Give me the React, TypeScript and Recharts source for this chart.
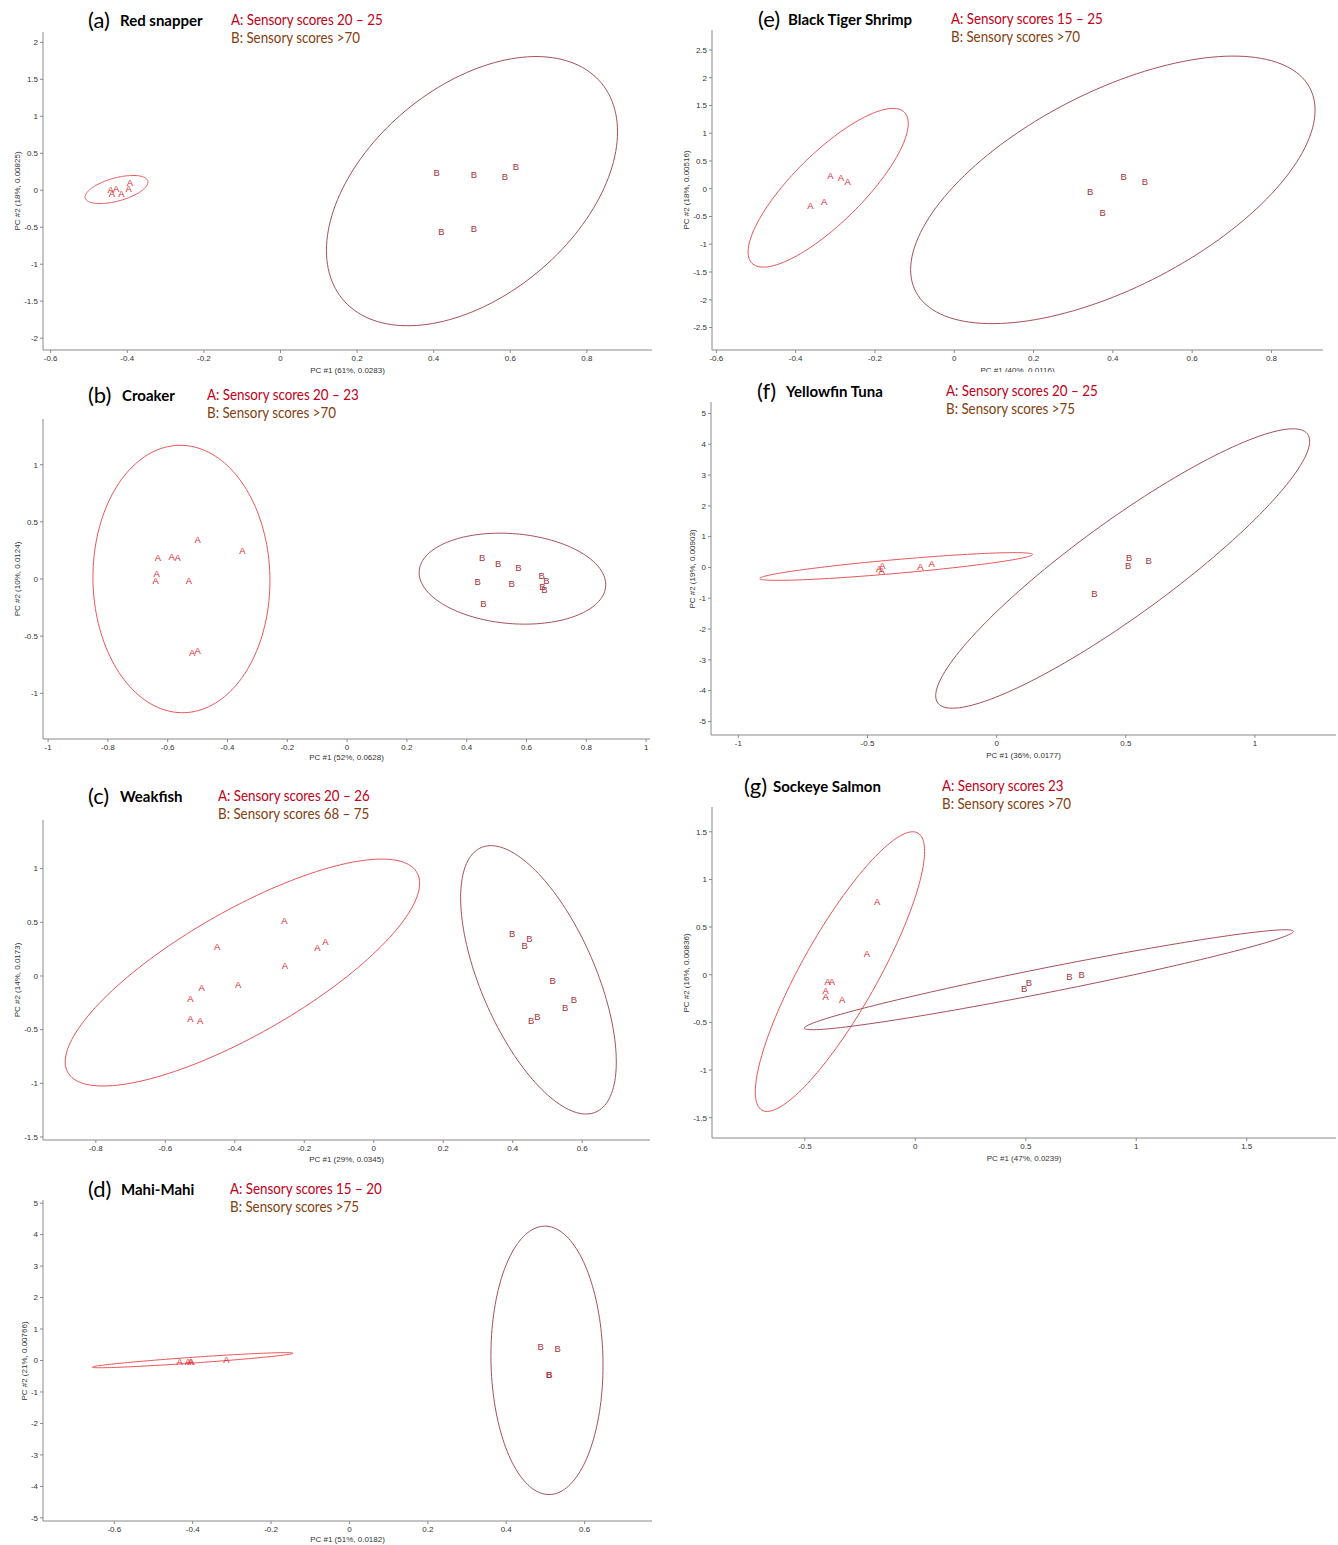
import React from 'react'
import { ScatterChart, Scatter, XAxis, YAxis } from 'recharts'

type Pt = { x: number; y: number }
// confidence ellipse: centre, half width, half height, y value at its rightmost point
type Ell = { cx: number; cy: number; rx: number; ry: number; yRight: number }

// (a) Red snapper
const snapperA: Pt[] = [
  { x: -0.443, y: 0.014 }, { x: -0.429, y: 0.023 }, { x: -0.44, y: -0.045 },
  { x: -0.415, y: -0.045 }, { x: -0.393, y: 0.1 }, { x: -0.396, y: 0.023 },
]
const snapperB: Pt[] = [
  { x: 0.408, y: 0.24 }, { x: 0.505, y: 0.21 }, { x: 0.586, y: 0.185 },
  { x: 0.615, y: 0.32 }, { x: 0.42, y: -0.56 }, { x: 0.505, y: -0.515 },
]
const snapperEllA: Ell = { cx: -0.428, cy: 0.01, rx: 0.082, ry: 0.19, yRight: 0.11 }
const snapperEllB: Ell = { cx: 0.5, cy: -0.012, rx: 0.38, ry: 1.82, yRight: 0.79 }

// (b) Croaker
const croakerA: Pt[] = [
  { x: -0.5, y: 0.35 }, { x: -0.35, y: 0.25 }, { x: -0.633, y: 0.19 }, { x: -0.587, y: 0.2 },
  { x: -0.567, y: 0.19 }, { x: -0.637, y: 0.05 }, { x: -0.64, y: -0.015 }, { x: -0.529, y: -0.01 },
  { x: -0.518, y: -0.645 }, { x: -0.5, y: -0.625 },
]
const croakerB: Pt[] = [
  { x: 0.452, y: 0.19 }, { x: 0.505, y: 0.134 }, { x: 0.573, y: 0.1 }, { x: 0.437, y: -0.02 },
  { x: 0.55, y: -0.04 }, { x: 0.456, y: -0.218 }, { x: 0.651, y: 0.03 }, { x: 0.667, y: -0.015 },
  { x: 0.653, y: -0.067 }, { x: 0.66, y: -0.093 },
]
const croakerEllA: Ell = { cx: -0.554, cy: 0, rx: 0.296, ry: 1.17, yRight: -0.015 }
const croakerEllB: Ell = { cx: 0.553, cy: 0.003, rx: 0.312, ry: 0.398, yRight: -0.05 }

// (c) Weakfish
const weakfishA: Pt[] = [
  { x: -0.257, y: 0.515 }, { x: -0.451, y: 0.276 }, { x: -0.162, y: 0.264 }, { x: -0.139, y: 0.323 },
  { x: -0.256, y: 0.102 }, { x: -0.495, y: -0.112 }, { x: -0.39, y: -0.084 }, { x: -0.528, y: -0.208 },
  { x: -0.528, y: -0.394 }, { x: -0.5, y: -0.413 },
]
const weakfishB: Pt[] = [
  { x: 0.398, y: 0.398 }, { x: 0.448, y: 0.351 }, { x: 0.434, y: 0.283 }, { x: 0.515, y: -0.043 },
  { x: 0.576, y: -0.217 }, { x: 0.551, y: -0.298 }, { x: 0.453, y: -0.419 }, { x: 0.471, y: -0.382 },
]
const weakfishEllA: Ell = { cx: -0.378, cy: 0.032, rx: 0.51, ry: 1.057, yRight: 0.863 }
const weakfishEllB: Ell = { cx: 0.474, cy: -0.036, rx: 0.224, ry: 1.25, yRight: -0.8 }

// (d) Mahi-Mahi
const mahiA: Pt[] = [
  { x: -0.433, y: -0.02 }, { x: -0.412, y: -0.02 }, { x: -0.406, y: -0.02 },
  { x: -0.403, y: -0.04 }, { x: -0.314, y: 0.04 },
]
const mahiB: Pt[] = [
  { x: 0.488, y: 0.455 }, { x: 0.531, y: 0.38 }, { x: 0.509, y: -0.445 }, { x: 0.51, y: -0.43 },
]
const mahiEllA: Ell = { cx: -0.4, cy: 0.01, rx: 0.256, ry: 0.24, yRight: 0.232 }
const mahiEllB: Ell = { cx: 0.504, cy: 0.005, rx: 0.143, ry: 4.265, yRight: -0.15 }

// (e) Black Tiger Shrimp
const shrimpA: Pt[] = [
  { x: -0.3125, y: 0.234 }, { x: -0.286, y: 0.198 }, { x: -0.269, y: 0.132 },
  { x: -0.363, y: -0.306 }, { x: -0.328, y: -0.234 },
]
const shrimpB: Pt[] = [
  { x: 0.427, y: 0.216 }, { x: 0.481, y: 0.126 }, { x: 0.343, y: -0.042 }, { x: 0.374, y: -0.42 },
]
const shrimpEllA: Ell = { cx: -0.318, cy: 0.018, rx: 0.202, ry: 1.43, yRight: 1.176 }
const shrimpEllB: Ell = { cx: 0.4, cy: -0.02, rx: 0.51, ry: 2.41, yRight: 1.417 }

// (f) Yellowfin Tuna
const tunaA: Pt[] = [
  { x: -0.455, y: -0.04 }, { x: -0.442, y: 0.054 }, { x: -0.445, y: -0.11 },
  { x: -0.295, y: 0.03 }, { x: -0.252, y: 0.14 },
]
const tunaB: Pt[] = [
  { x: 0.513, y: 0.325 }, { x: 0.509, y: 0.076 }, { x: 0.589, y: 0.217 }, { x: 0.379, y: -0.856 },
]
const tunaEllA: Ell = { cx: -0.389, cy: 0.03, rx: 0.528, ry: 0.45, yRight: 0.42 }
const tunaEllB: Ell = { cx: 0.488, cy: -0.035, rx: 0.724, ry: 4.535, yRight: 4.095 }

// (g) Sockeye Salmon
const salmonA: Pt[] = [
  { x: -0.173, y: 0.773 }, { x: -0.219, y: 0.227 }, { x: -0.397, y: -0.073 }, { x: -0.377, y: -0.073 },
  { x: -0.406, y: -0.168 }, { x: -0.406, y: -0.227 }, { x: -0.331, y: -0.262 },
]
const salmonB: Pt[] = [
  { x: 0.514, y: -0.077 }, { x: 0.493, y: -0.14 }, { x: 0.697, y: -0.014 }, { x: 0.753, y: 0.003 },
]
const salmonEllA: Ell = { cx: -0.341, cy: 0.033, rx: 0.383, ry: 1.467, yRight: 1.295 }
const salmonEllB: Ell = { cx: 0.6045, cy: -0.0525, rx: 1.1065, ry: 0.5245, yRight: 0.455 }

// tick labels
const ticksA_x = [-0.6, -0.4, -0.2, 0, 0.2, 0.4, 0.6, 0.8]
const ticksA_y = [-2, -1.5, -1, -0.5, 0, 0.5, 1, 1.5, 2]
const ticksB_x = [-1, -0.8, -0.6, -0.4, -0.2, 0, 0.2, 0.4, 0.6, 0.8, 1]
const ticksB_y = [-1, -0.5, 0, 0.5, 1]
const ticksC_x = [-0.8, -0.6, -0.4, -0.2, 0, 0.2, 0.4, 0.6]
const ticksC_y = [-1.5, -1, -0.5, 0, 0.5, 1]
const ticksD_x = [-0.6, -0.4, -0.2, 0, 0.2, 0.4, 0.6]
const ticksD_y = [-5, -4, -3, -2, -1, 0, 1, 2, 3, 4, 5]
const ticksE_x = [-0.6, -0.4, -0.2, 0, 0.2, 0.4, 0.6, 0.8]
const ticksE_y = [-2.5, -2, -1.5, -1, -0.5, 0, 0.5, 1, 1.5, 2, 2.5]
const ticksF_x = [-1, -0.5, 0, 0.5, 1]
const ticksF_y = [-5, -4, -3, -2, -1, 0, 1, 2, 3, 4, 5]
const ticksG_x = [-0.5, 0, 0.5, 1, 1.5]
const ticksG_y = [-1.5, -1, -0.5, 0, 0.5, 1, 1.5]

const A_COLOR = '#e3262d'
const B_COLOR = '#a8323c'
const ELL_A = '#e8555a'
const ELL_B = '#a5505c'
const LEG_A = '#c00018'
const LEG_B = '#83400f'
const TITLE_FONT = "Lato, 'Open Sans', sans-serif"
const SMALL_FONT = "'Liberation Sans', Arial, sans-serif"

const ellipsePoints = (e: Ell): Pt[] => {
  const s = Math.max(-1, Math.min(1, (e.yRight - e.cy) / e.ry))
  const phi = Math.asin(s)
  const pts: Pt[] = []
  for (let i = 0; i <= 160; i++) {
    const t = (i / 160) * Math.PI * 2
    pts.push({ x: e.cx + e.rx * Math.cos(t), y: e.cy + e.ry * Math.sin(t + phi) })
  }
  return pts
}

const letter = (ch: string, color: string) => (props: any) => (
  <text x={props.cx} y={props.cy} textAnchor="middle" dominantBaseline="central"
    fontSize={9.5} fill={color} fontFamily={SMALL_FONT}>{ch}</text>
)

interface PanelDef {
  tag: string; name: string; legA: string; legB: string
  xLabel: string; yLabel: string
  a: Pt[]; b: Pt[]; ellA: Ell; ellB: Ell
  xTicks: number[]; yTicks: number[]
  xDomain: [number, number]; yDomain: [number, number]
  // plot rectangle on the page
  x0: number; x1: number; y0: number; y1: number
  titleX: number; titleY: number; nameX: number; legX: number
  xLabelY: number; yLabelX: number; clipXLabel?: boolean
}

const panels: PanelDef[] = [
  {
    tag: '(a)', name: 'Red snapper', legA: 'A: Sensory scores 20 – 25', legB: 'B: Sensory scores >70',
    xLabel: 'PC #1 (61%, 0.0283)', yLabel: 'PC #2 (18%, 0.00825)',
    a: snapperA, b: snapperB, ellA: snapperEllA, ellB: snapperEllB,
    xTicks: ticksA_x, yTicks: ticksA_y, xDomain: [-0.62, 0.97], yDomain: [-2.16, 2.14],
    x0: 43, x1: 652, y0: 32, y1: 350, titleX: 88, titleY: 20, nameX: 120, legX: 231, xLabelY: 371, yLabelX: 18,
  },
  {
    tag: '(b)', name: 'Croaker', legA: 'A: Sensory scores 20 – 23', legB: 'B: Sensory scores >70',
    xLabel: 'PC #1 (52%, 0.0628)', yLabel: 'PC #2 (10%, 0.0124)',
    a: croakerA, b: croakerB, ellA: croakerEllA, ellB: croakerEllB,
    xTicks: ticksB_x, yTicks: ticksB_y, xDomain: [-1.017, 1.013], yDomain: [-1.4, 1.4],
    x0: 43, x1: 650, y0: 419, y1: 739, titleX: 88, titleY: 395, nameX: 122, legX: 207, xLabelY: 758, yLabelX: 18,
  },
  {
    tag: '(c)', name: 'Weakfish', legA: 'A: Sensory scores 20 – 26', legB: 'B: Sensory scores 68 – 75',
    xLabel: 'PC #1 (29%, 0.0345)', yLabel: 'PC #2 (14%, 0.0173)',
    a: weakfishA, b: weakfishB, ellA: weakfishEllA, ellB: weakfishEllB,
    xTicks: ticksC_x, yTicks: ticksC_y, xDomain: [-0.952, 0.795], yDomain: [-1.528, 1.453],
    x0: 43, x1: 650, y0: 820, y1: 1140, titleX: 88, titleY: 796, nameX: 120, legX: 218, xLabelY: 1160, yLabelX: 18,
  },
  {
    tag: '(d)', name: 'Mahi-Mahi', legA: 'A: Sensory scores 15 – 20', legB: 'B: Sensory scores >75',
    xLabel: 'PC #1 (51%, 0.0182)', yLabel: 'PC #2 (21%, 0.00766)',
    a: mahiA, b: mahiB, ellA: mahiEllA, ellB: mahiEllB,
    xTicks: ticksD_x, yTicks: ticksD_y, xDomain: [-0.782, 0.772], yDomain: [-5.1, 5.1],
    x0: 43, x1: 652, y0: 1200, y1: 1521, titleX: 88, titleY: 1189, nameX: 121, legX: 230, xLabelY: 1540, yLabelX: 25,
  },
  {
    tag: '(e)', name: 'Black Tiger Shrimp', legA: 'A: Sensory scores 15 – 25', legB: 'B: Sensory scores >70',
    xLabel: 'PC #1 (40%, 0.0116)', yLabel: 'PC #2 (18%, 0.00516)',
    a: shrimpA, b: shrimpB, ellA: shrimpEllA, ellB: shrimpEllB,
    xTicks: ticksE_x, yTicks: ticksE_y, xDomain: [-0.611, 0.93], yDomain: [-2.905, 2.86],
    x0: 712, x1: 1323, y0: 30, y1: 350, titleX: 758, titleY: 19, nameX: 788, legX: 951, xLabelY: 371, yLabelX: 687,
    clipXLabel: true,
  },
  {
    tag: '(f)', name: 'Yellowfin Tuna', legA: 'A: Sensory scores 20 – 25', legB: 'B: Sensory scores >75',
    xLabel: 'PC #1 (36%, 0.0177)', yLabel: 'PC #2 (19%, 0.00903)',
    a: tunaA, b: tunaB, ellA: tunaEllA, ellB: tunaEllB,
    xTicks: ticksF_x, yTicks: ticksF_y, xDomain: [-1.106, 1.314], yDomain: [-5.44, 5.37],
    x0: 711, x1: 1336, y0: 402, y1: 735, titleX: 757, titleY: 391, nameX: 786, legX: 946, xLabelY: 756, yLabelX: 693,
  },
  {
    tag: '(g)', name: 'Sockeye Salmon', legA: 'A: Sensory scores 23', legB: 'B: Sensory scores >70',
    xLabel: 'PC #1 (47%, 0.0239)', yLabel: 'PC #2 (16%, 0.00836)',
    a: salmonA, b: salmonB, ellA: salmonEllA, ellB: salmonEllB,
    xTicks: ticksG_x, yTicks: ticksG_y, xDomain: [-0.92, 1.904], yDomain: [-1.713, 1.76],
    x0: 712, x1: 1336, y0: 807, y1: 1138, titleX: 744, titleY: 786, nameX: 773, legX: 942, xLabelY: 1159, yLabelX: 687,
  },
]

const Y_AXIS_W = 40
const M_TOP = 10
const M_RIGHT = 2
const X_AXIS_H = 22

const tickStyle = { fontSize: 8, fill: '#333', fontFamily: SMALL_FONT }

const Panel = ({ p }: { p: PanelDef }) => {
  const w = p.x1 - p.x0 + Y_AXIS_W + M_RIGHT
  const h = p.y1 - p.y0 + M_TOP + X_AXIS_H
  const xMid = (p.x0 + p.x1) / 2
  const yMid = (p.y0 + p.y1) / 2
  return (
    <>
      <div style={{ position: 'absolute', left: p.x0 - Y_AXIS_W, top: p.y0 - M_TOP }}>
        <ScatterChart width={w} height={h} margin={{ top: M_TOP, right: M_RIGHT, bottom: 0, left: 0 }}>
          <XAxis type="number" dataKey="x" domain={p.xDomain} ticks={p.xTicks} allowDataOverflow interval={0}
            height={X_AXIS_H} tickSize={3} tick={tickStyle}
            axisLine={{ stroke: '#8a8a8a' }} tickLine={{ stroke: '#8a8a8a' }} />
          <YAxis type="number" dataKey="y" domain={p.yDomain} ticks={p.yTicks} allowDataOverflow interval={0}
            width={Y_AXIS_W} tickSize={3} tick={tickStyle}
            axisLine={{ stroke: '#8a8a8a' }} tickLine={{ stroke: '#8a8a8a' }} />
          <Scatter data={ellipsePoints(p.ellA)} line={{ stroke: ELL_A, strokeWidth: 1 }} shape={() => <g />}
            isAnimationActive={false} />
          <Scatter data={ellipsePoints(p.ellB)} line={{ stroke: ELL_B, strokeWidth: 1 }} shape={() => <g />}
            isAnimationActive={false} />
          <Scatter data={p.a} shape={letter('A', A_COLOR)} isAnimationActive={false} />
          <Scatter data={p.b} shape={letter('B', B_COLOR)} isAnimationActive={false} />
        </ScatterChart>
      </div>
      <div style={{ position: 'absolute', left: p.titleX, top: p.titleY - 13, height: 26, lineHeight: '26px',
        fontFamily: TITLE_FONT, whiteSpace: 'nowrap', color: '#000' }}>
        <span style={{ fontSize: 22 }}>{p.tag}</span>
      </div>
      <div style={{ position: 'absolute', left: p.nameX, top: p.titleY - 10, height: 20, lineHeight: '20px',
        fontFamily: TITLE_FONT, fontWeight: 'bold', fontSize: 15, whiteSpace: 'nowrap', color: '#000' }}>
        {p.name}
      </div>
      <div style={{ position: 'absolute', left: p.legX, top: p.titleY - 10, lineHeight: '18px',
        fontFamily: TITLE_FONT, fontSize: 15, whiteSpace: 'nowrap', transform: 'scaleX(0.89)',
        transformOrigin: 'left top' }}>
        <div style={{ color: LEG_A }}>{p.legA}</div>
        <div style={{ color: LEG_B }}>{p.legB}</div>
      </div>
      {p.clipXLabel ? (
        <div style={{ position: 'absolute', left: xMid - 60, width: 120, top: p.xLabelY - 6, height: 7,
          overflow: 'hidden', textAlign: 'center', fontFamily: SMALL_FONT, fontSize: 8, lineHeight: '11px',
          color: '#333' }}>{p.xLabel}</div>
      ) : (
        <div style={{ position: 'absolute', left: xMid, top: p.xLabelY - 5, transform: 'translateX(-50%)',
          fontFamily: SMALL_FONT, fontSize: 8, lineHeight: '10px', color: '#333', whiteSpace: 'nowrap' }}>
          {p.xLabel}
        </div>
      )}
      <div style={{ position: 'absolute', left: p.yLabelX, top: yMid, transform: 'translate(-50%, -50%) rotate(-90deg)',
        fontFamily: SMALL_FONT, fontSize: 8, lineHeight: '10px', color: '#333', whiteSpace: 'nowrap' }}>
        {p.yLabel}
      </div>
    </>
  )
}

export default function App() {
  return (
    <div style={{ position: 'absolute', left: 0, top: 0, width: 1338, height: 1545, background: '#fff', overflow: 'hidden' }}>
      {panels.map((p) => <Panel key={p.tag} p={p} />)}
    </div>
  )
}
